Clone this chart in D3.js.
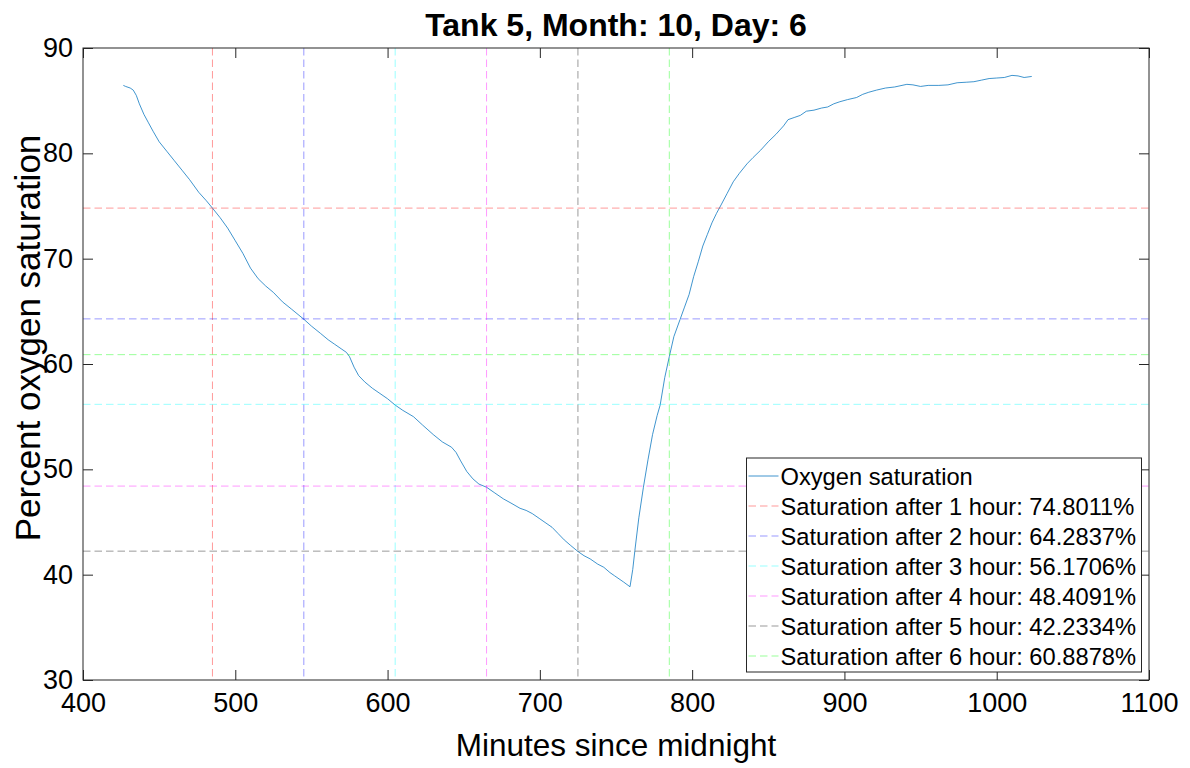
<!DOCTYPE html>
<html>
<head>
<meta charset="utf-8">
<script src="https://cdn.jsdelivr.net/npm/d3@7"></script>
<style>
  body { margin: 0; background: #fff; }
  text { font-family: "Liberation Sans", Arial, Helvetica, sans-serif; fill: #000; }
</style>
</head>
<body>
<svg id="chart" width="1190" height="768"></svg>
<script>
// Logged oxygen readings (minutes since midnight, % saturation)
const minutes = [
  426.5, 428, 431, 433, 435, 437, 440, 443, 446, 450, 455, 460, 465, 470, 476, 481,
  485, 490, 495, 500, 505, 510, 515, 520, 525, 531, 537, 545, 550, 556, 561, 565,
  570, 573, 575, 578, 581, 585, 590, 595, 600, 605, 610, 617, 623, 630, 636, 642,
  645, 648, 652, 656, 660, 665, 670, 676, 681, 687, 691, 695, 700, 704, 708, 712,
  716, 720, 725, 729, 733, 738, 742, 746, 749, 752, 755, 759.2, 761, 762.4, 765, 768,
  771, 774, 777, 779, 782, 785, 788, 792, 795, 798, 801, 804, 807, 810, 813, 816,
  819, 823, 827, 831, 836, 840, 845, 850, 855, 860, 863, 867, 871, 875, 880, 885,
  889, 893, 897, 902, 908, 912, 916, 921, 927, 933, 941, 945, 950, 955, 962, 968,
  974, 980, 985, 990, 995, 1000, 1005, 1010, 1014, 1018, 1023
];
const saturation = [
  86.45, 86.35, 86.2, 86.0, 85.5, 84.7, 83.7, 82.9, 82.1, 81.1, 80.2, 79.3, 78.4, 77.5, 76.3, 75.5,
  74.8, 73.9, 72.9, 71.7, 70.5, 69.1, 68.1, 67.4, 66.8, 65.9, 65.2, 64.25, 63.6, 62.9, 62.3, 61.9,
  61.4, 61.1, 60.7, 59.7, 58.9, 58.3, 57.7, 57.2, 56.7, 56.1, 55.6, 55.0, 54.2, 53.3, 52.6, 52.1,
  51.6, 50.8, 49.8, 49.1, 48.6, 48.3, 47.8, 47.2, 46.8, 46.3, 46.1, 45.8, 45.3, 44.9, 44.5, 43.9,
  43.3, 42.8, 42.2, 41.8, 41.5, 41.0, 40.7, 40.2, 39.9, 39.6, 39.3, 38.85, 40.5, 42.3, 45.4, 48.3,
  50.9, 53.3, 55.1, 56.1, 58.7, 60.7, 62.6, 64.2, 65.4, 66.6, 68.3, 69.7, 71.2, 72.3, 73.4, 74.3,
  75.1, 76.2, 77.3, 78.1, 79.0, 79.6, 80.3, 81.1, 81.8, 82.6, 83.2, 83.4, 83.6, 84.0, 84.1, 84.3,
  84.4, 84.7, 84.9, 85.1, 85.3, 85.6, 85.8, 86.0, 86.2, 86.3, 86.55, 86.5, 86.35, 86.45, 86.45, 86.5,
  86.7, 86.75, 86.8, 86.95, 87.1, 87.15, 87.2, 87.4, 87.35, 87.2, 87.3
];

// Hourly checkpoints after the start of the log
const hourNumbers = [1, 2, 3, 4, 5, 6];
const hourMinutes = [485, 545, 605, 665, 725, 785];
const hourSaturation = [74.8011, 64.2837, 56.1706, 48.4091, 42.2334, 60.8878];

const xTicks = [400, 500, 600, 700, 800, 900, 1000, 1100];
const yTicks = [30, 40, 50, 60, 70, 80, 90];

const titleText = "Tank 5, Month: 10, Day: 6";
const xLabelText = "Minutes since midnight";
const yLabelText = "Percent oxygen saturation";
const seriesName = "Oxygen saturation";

// Styling
const hourColors = ["#ff0000", "#0000ff", "#00ffff", "#ff00ff", "#000000", "#00ff00"];
const lineColor = "#0072BD";
const frameColor = "#262626";
const plot = { left: 83, right: 1149, top: 48, bottom: 680 };

const svg = d3.select("#chart");
const x = d3.scaleLinear().domain([400, 1100]).range([plot.left, plot.right]);
const y = d3.scaleLinear().domain([30, 90]).range([plot.bottom, plot.top]);

// Oxygen trace
const points = minutes.map((m, i) => [m, saturation[i]]);
svg.append("path")
  .datum(points)
  .attr("fill", "none")
  .attr("stroke", lineColor)
  .attr("stroke-opacity", 0.75)
  .attr("stroke-width", 1)
  .attr("d", d3.line().x(d => x(d[0])).y(d => y(d[1])));

// Hour markers: vertical at the checkpoint time, horizontal at its reading
const marks = svg.append("g").attr("fill", "none").attr("stroke-dasharray", "7.5,4");
hourNumbers.forEach((h, i) => {
  marks.append("line")
    .attr("x1", x(hourMinutes[i])).attr("x2", x(hourMinutes[i]))
    .attr("y1", plot.top).attr("y2", plot.bottom)
    .attr("stroke", hourColors[i]).attr("stroke-opacity", 0.4);
  marks.append("line")
    .attr("x1", plot.left).attr("x2", plot.right)
    .attr("y1", y(hourSaturation[i])).attr("y2", y(hourSaturation[i]))
    .attr("stroke", hourColors[i]).attr("stroke-opacity", 0.4);
});

// Axes with inward ticks on all four sides
const tickFmt = d3.format("d");
function styleAxis(g) {
  g.select(".domain").remove();
  g.selectAll(".tick line").attr("stroke", frameColor);
  g.selectAll(".tick text").attr("fill", "#262626").style("font-size", "27px");
}
svg.append("g").attr("transform", `translate(0,${plot.bottom})`)
  .call(d3.axisBottom(x).tickValues(xTicks).tickFormat(tickFmt).tickSizeInner(-10).tickSizeOuter(0).tickPadding(13))
  .call(styleAxis);
svg.append("g").attr("transform", `translate(0,${plot.top})`)
  .call(d3.axisTop(x).tickValues(xTicks).tickSizeInner(-10).tickSizeOuter(0).tickFormat(""))
  .call(styleAxis);
svg.append("g").attr("transform", `translate(${plot.left},0)`)
  .call(d3.axisLeft(y).tickValues(yTicks).tickFormat(tickFmt).tickSizeInner(-10).tickSizeOuter(0).tickPadding(10))
  .call(styleAxis);
svg.append("g").attr("transform", `translate(${plot.right},0)`)
  .call(d3.axisRight(y).tickValues(yTicks).tickSizeInner(-10).tickSizeOuter(0).tickFormat(""))
  .call(styleAxis);

svg.append("rect")
  .attr("x", plot.left).attr("y", plot.top)
  .attr("width", plot.right - plot.left).attr("height", plot.bottom - plot.top)
  .attr("fill", "none").attr("stroke", frameColor).attr("stroke-width", 1);

// Title and axis labels
svg.append("text")
  .attr("x", (plot.left + plot.right) / 2).attr("y", 36)
  .attr("text-anchor", "middle")
  .style("font-size", "32px").style("font-weight", "bold")
  .text(titleText);
svg.append("text")
  .attr("x", (plot.left + plot.right) / 2).attr("y", 756)
  .attr("text-anchor", "middle")
  .attr("fill", "#262626")
  .style("font-size", "31.5px")
  .text(xLabelText);
svg.append("text")
  .attr("transform", `translate(40,338) rotate(-90)`)
  .attr("text-anchor", "middle")
  .attr("fill", "#262626")
  .style("font-size", "35px")
  .text(yLabelText);

// Legend
const legend = { left: 746.5, top: 458, width: 395, height: 214, rowStart: 476, rowStep: 30 };
const lg = svg.append("g");
lg.append("rect")
  .attr("x", legend.left).attr("y", legend.top)
  .attr("width", legend.width).attr("height", legend.height)
  .attr("fill", "#fff").attr("stroke", frameColor).attr("stroke-width", 1);
const entries = [{ label: seriesName, color: lineColor, dash: null, opacity: 0.75 }]
  .concat(hourNumbers.map((h, i) => ({
    label: `Saturation after ${h} hour: ${hourSaturation[i].toFixed(4)}%`,
    color: hourColors[i], dash: "7.5,4", opacity: 0.4
  })));
entries.forEach((e, i) => {
  const cy = legend.rowStart + i * legend.rowStep;
  lg.append("line")
    .attr("x1", legend.left + 2).attr("x2", legend.left + 32)
    .attr("y1", cy).attr("y2", cy)
    .attr("stroke", e.color).attr("stroke-opacity", e.opacity)
    .attr("stroke-dasharray", e.dash);
  lg.append("text")
    .attr("x", legend.left + 34).attr("y", cy)
    .attr("dy", "0.36em")
    .style("font-size", "23.7px")
    .text(e.label);
});
</script>
</body>
</html>
